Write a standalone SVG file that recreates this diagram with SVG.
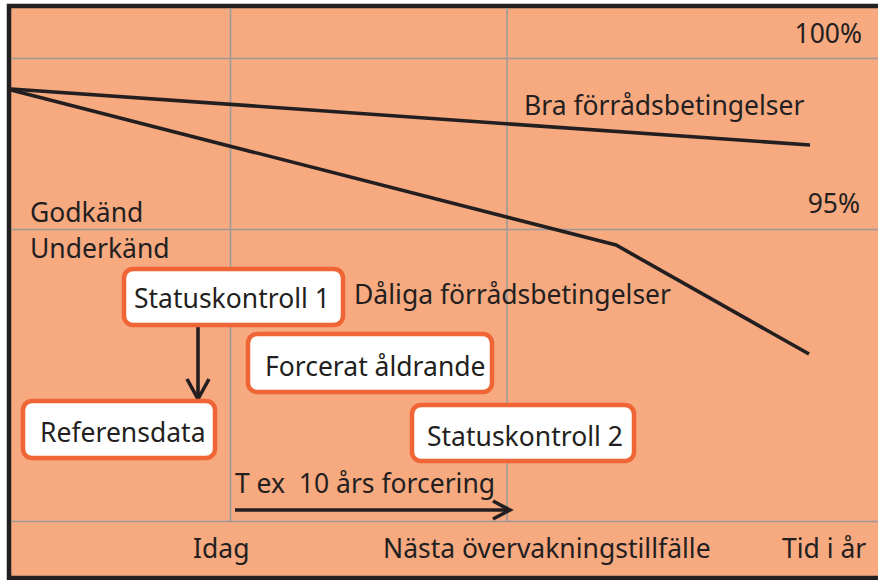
<svg xmlns="http://www.w3.org/2000/svg" width="878" height="580" viewBox="0 0 878 580">
<style>
.t{font-family:"Noto Sans","Open Sans","DejaVu Sans",sans-serif;font-size:26.5px;fill:#231f20}
.grid{stroke:#9b9b9b;stroke-width:1.6;fill:none}
.curve{stroke:#231f20;stroke-width:3.6;fill:none;stroke-linejoin:miter}
.box{fill:#ffffff;stroke:#f06535;stroke-width:4.5}
.conn{stroke:#231f20;stroke-width:3.6;fill:none}
</style>
<rect x="0" y="0" width="878" height="580" fill="#ffffff"/>
<rect x="9" y="6" width="880" height="572" fill="#f7a980" stroke="#231f20" stroke-width="4.5"/>
<g id="grid">
<line class="grid" x1="11" y1="58.5" x2="878" y2="58.5"/>
<line class="grid" x1="11" y1="229.5" x2="878" y2="229.5"/>
<line class="grid" x1="11" y1="521.5" x2="878" y2="521.5"/>
<line class="grid" x1="230.5" y1="8" x2="230.5" y2="521"/>
<line class="grid" x1="507" y1="8" x2="507" y2="521"/>
</g>
<g id="curves">
<polyline class="curve" points="11,89 810,145"/>
<polyline class="curve" points="11,90 616,245 809,354"/>
</g>
<g id="labels">
<text class="t" x="862" y="43" text-anchor="end">100%</text>
<text class="t" x="524" y="115">Bra förrådsbetingelser</text>
<text class="t" x="860" y="213" text-anchor="end">95%</text>
<text class="t" x="30" y="222">Godkänd</text>
<text class="t" x="30" y="258">Underkänd</text>
<text class="t" x="354" y="304">Dåliga förrådsbetingelser</text>
<text class="t" x="235" y="493" xml:space="preserve">T ex  10 års forcering</text>
<text class="t" x="193" y="558">Idag</text>
<text class="t" x="383" y="558">Nästa övervakningstillfälle</text>
<text class="t" x="782" y="558">Tid i år</text>
</g>
<g id="connectors">
<line class="conn" x1="198" y1="327" x2="198" y2="398"/>
<polyline class="conn" points="187,379 198,399 209,379"/>
<line class="conn" x1="235" y1="510" x2="509" y2="510"/>
<polyline class="conn" points="493,501 510,510 493,519"/>
</g>
<g id="statuskontroll1">
<rect class="box" x="124" y="269" width="219" height="56" rx="9"/>
<text class="t" x="134" y="308">Statuskontroll 1</text>
</g>
<g id="forcerat">
<rect class="box" x="248" y="334" width="244" height="58" rx="9"/>
<text class="t" x="265" y="376">Forcerat åldrande</text>
</g>
<g id="referensdata">
<rect class="box" x="23" y="401" width="192" height="57" rx="9"/>
<text class="t" x="40" y="442">Referensdata</text>
</g>
<g id="statuskontroll2">
<rect class="box" x="412" y="405" width="222" height="56" rx="9"/>
<text class="t" x="427" y="446">Statuskontroll 2</text>
</g>
</svg>
